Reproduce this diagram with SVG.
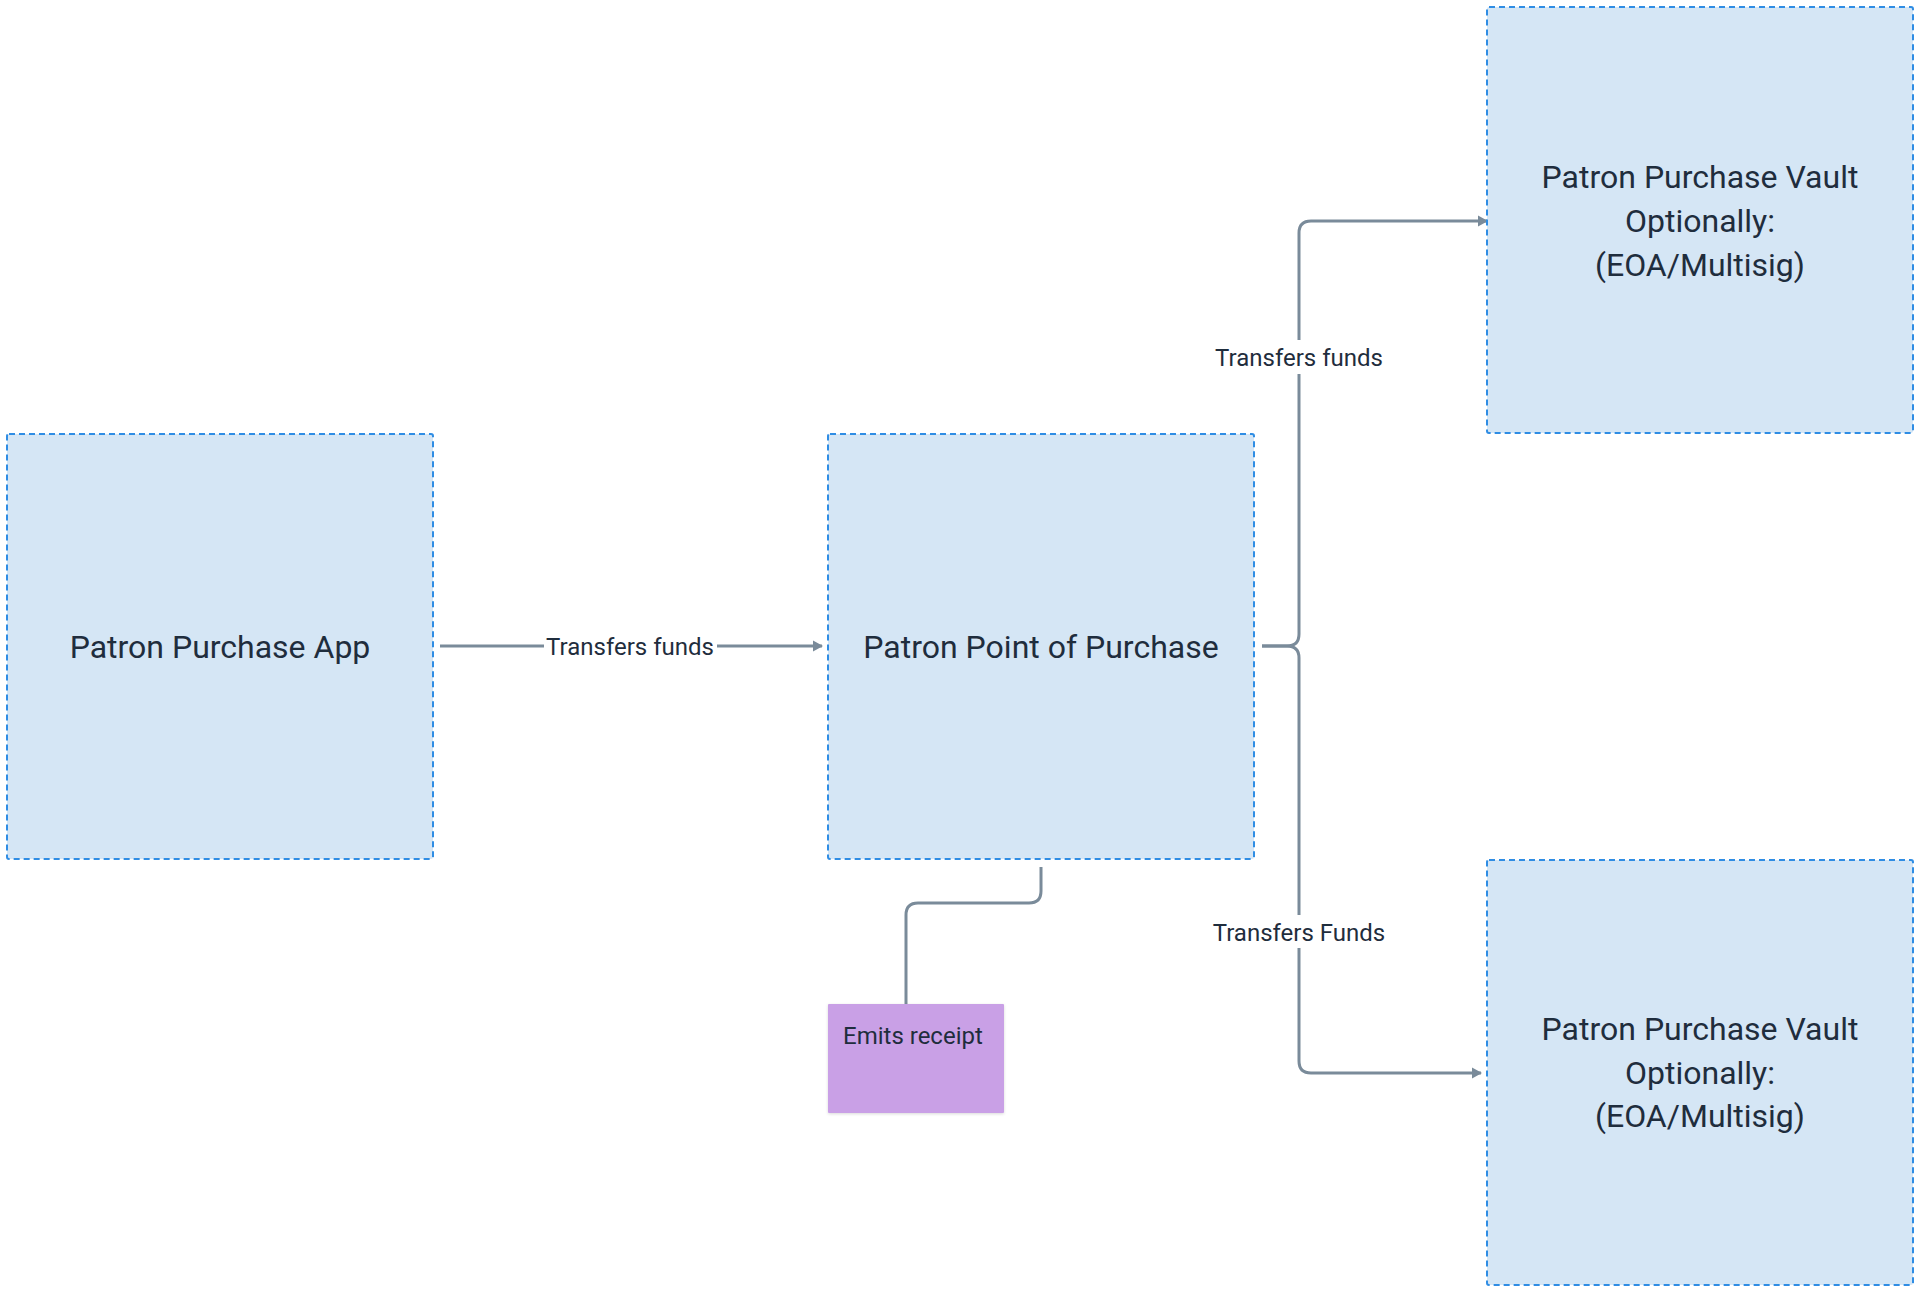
<svg xmlns="http://www.w3.org/2000/svg" width="1920" height="1293" viewBox="0 0 1920 1293">
<style>
.box{fill:#D5E6F5;stroke:#2F8DE4;stroke-width:2;stroke-dasharray:6 4}
.t{font-family:Roboto,"Liberation Sans",sans-serif;font-size:32px;fill:#1F2D3D;text-anchor:middle}
.lbl{font-family:Roboto,"Liberation Sans",sans-serif;font-size:24px;fill:#1F2D3D;text-anchor:middle}
.c{fill:none;stroke:#7A8B9A;stroke-width:3;stroke-linejoin:round}
.note{fill:#C9A0E6}
</style>
<defs>
<marker id="ah" markerWidth="12" markerHeight="12" refX="9" refY="6" orient="auto" markerUnits="userSpaceOnUse">
<path d="M0,0.5 L10,6 L0,11.5 Z" fill="#7A8B9A"/>
</marker>
<filter id="sh" x="-10%" y="-10%" width="120%" height="130%">
<feDropShadow dx="0" dy="1" stdDeviation="1.5" flood-color="#000" flood-opacity="0.15"/>
</filter>
</defs>
<rect width="1920" height="1293" fill="#FFFFFF"/>
<g id="connectors">
<path class="c" d="M440,646 H822" marker-end="url(#ah)"/>
<rect x="544" y="630" width="173" height="30" fill="#FFFFFF"/>
<text class="lbl" x="630" y="655">Transfers funds</text>
<path class="c" d="M1262,646 H1287 Q1299,646 1299,634 V233 Q1299,221 1311,221 H1487" marker-end="url(#ah)"/>
<path class="c" d="M1262,646 H1287 Q1299,646 1299,658 V1061 Q1299,1073 1311,1073 H1481" marker-end="url(#ah)"/>
<rect x="1210" y="340" width="180" height="34" fill="#FFFFFF"/>
<text class="lbl" x="1299" y="366">Transfers funds</text>
<rect x="1205" y="915" width="190" height="33" fill="#FFFFFF"/>
<text class="lbl" x="1299" y="941">Transfers Funds</text>
<path class="c" d="M1041,867 V891 Q1041,903 1029,903 H918 Q906,903 906,915 V1004"/>
</g>
<g id="node-app">
<rect class="box" x="7" y="434" width="426" height="425" rx="2"/>
<text class="t" x="220" y="658">Patron Purchase App</text>
</g>
<g id="node-pop">
<rect class="box" x="828" y="434" width="426" height="425" rx="2"/>
<text class="t" x="1041" y="658">Patron Point of Purchase</text>
</g>
<g id="node-vault-top">
<rect class="box" x="1487" y="7" width="426" height="426" rx="2"/>
<text class="t" x="1700" y="188">Patron Purchase Vault</text>
<text class="t" x="1700" y="232">Optionally:</text>
<text class="t" x="1700" y="276">(EOA/Multisig)</text>
</g>
<g id="node-vault-bottom">
<rect class="box" x="1487" y="860" width="426" height="425" rx="2"/>
<text class="t" x="1700" y="1040">Patron Purchase Vault</text>
<text class="t" x="1700" y="1084">Optionally:</text>
<text class="t" x="1700" y="1127">(EOA/Multisig)</text>
</g>
<g id="node-receipt">
<rect class="note" x="828" y="1004" width="176" height="109" rx="1" filter="url(#sh)"/>
<text class="lbl" x="843" y="1044" style="text-anchor:start">Emits receipt</text>
</g>
</svg>
